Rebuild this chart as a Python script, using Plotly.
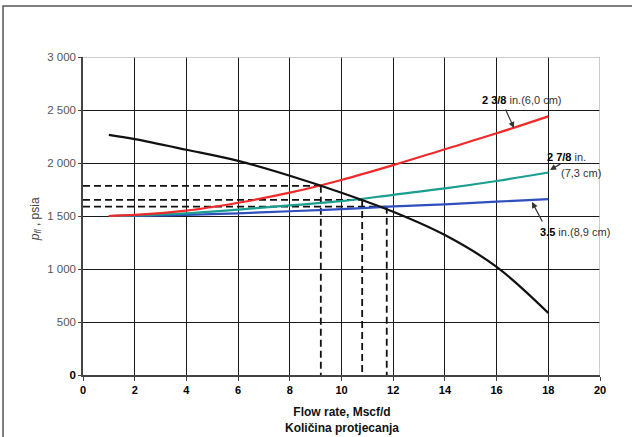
import plotly.graph_objects as go

# ---- data ----
ipr_x = [1, 2, 4, 6, 8, 10, 12, 14, 16, 18]
ipr_y = [2265, 2225, 2125, 2020, 1880, 1720, 1540, 1320, 1020, 585]

red_x = [1, 2, 4, 6, 8, 10, 12, 14, 16, 18]
red_y = [1500, 1510, 1550, 1625, 1720, 1840, 1980, 2130, 2280, 2440]

teal_x = [1, 2, 4, 6, 8, 10, 12, 14, 16, 18]
teal_y = [1500, 1505, 1525, 1560, 1600, 1640, 1700, 1760, 1830, 1910]

blue_x = [1, 2, 4, 6, 8, 10, 12, 14, 16, 18]
blue_y = [1500, 1502, 1510, 1525, 1545, 1565, 1590, 1610, 1635, 1660]

cross_x = [9.2, 10.8, 11.75]
cross_y = [1785, 1652, 1588]

x_ticks = [0, 2, 4, 6, 8, 10, 12, 14, 16, 18, 20]
y_ticks = [0, 500, 1000, 1500, 2000, 2500, 3000]
y_tick_text = ["<b style='color:#000'>0</b>", "500", "1 000", "1 500", "2 000", "2 500", "3 000"]

fig = go.Figure()

# dashed construction lines
for xi, yi in zip(cross_x, cross_y):
    fig.add_trace(go.Scatter(x=[0, xi], y=[yi, yi], mode="lines",
                             line=dict(color="#111111", width=1.8, dash="7px,4px"),
                             showlegend=False, hoverinfo="skip"))
    fig.add_trace(go.Scatter(x=[xi, xi], y=[yi, 0], mode="lines",
                             line=dict(color="#111111", width=1.8, dash="7px,4px"),
                             showlegend=False, hoverinfo="skip"))

fig.add_trace(go.Scatter(x=blue_x, y=blue_y, mode="lines", line=dict(color="#2f4fbf", width=2.2, shape="spline"), showlegend=False))
fig.add_trace(go.Scatter(x=teal_x, y=teal_y, mode="lines", line=dict(color="#1a9e90", width=2.2, shape="spline"), showlegend=False))
fig.add_trace(go.Scatter(x=red_x, y=red_y, mode="lines", line=dict(color="#f02a2a", width=2.2, shape="spline"), showlegend=False))
fig.add_trace(go.Scatter(x=ipr_x, y=ipr_y, mode="lines", line=dict(color="#111111", width=2.2, shape="spline"), showlegend=False))

ann_font = dict(family="Arial, Liberation Sans, sans-serif", size=11, color="#333333")
annotations = [
    dict(x=16.98, y=2594, xref="x", yref="y", text="<b style='color:#000'>2 3/8</b> in.(6,0 cm)", showarrow=False, font=ann_font),
    dict(x=18.72, y=2057, xref="x", yref="y", text="<b style='color:#000'>2 7/8</b> in.", showarrow=False, font=ann_font),
    dict(x=19.27, y=1906, xref="x", yref="y", text="(7,3 cm)", showarrow=False, font=ann_font),
    dict(x=19.03, y=1349, xref="x", yref="y", text="<b style='color:#000'>3.5</b> in.(8,9 cm)", showarrow=False, font=ann_font),
    # arrows
    dict(x=16.67, y=2330, xref="x", yref="y", ax=16.32, ay=2519, axref="x", ayref="y", text="",
         showarrow=True, arrowhead=2, arrowsize=1, arrowwidth=1.2, arrowcolor="#333333"),
    dict(x=18.07, y=1934, xref="x", yref="y", ax=18.53, ay=2000, axref="x", ayref="y", text="",
         showarrow=True, arrowhead=2, arrowsize=1, arrowwidth=1.2, arrowcolor="#333333"),
    dict(x=17.37, y=1632, xref="x", yref="y", ax=17.8, ay=1434, axref="x", ayref="y", text="",
         showarrow=True, arrowhead=2, arrowsize=1, arrowwidth=1.2, arrowcolor="#333333"),
    # axis titles
    dict(x=0.5, y=-0.088, xref="paper", yref="paper", xanchor="center", yanchor="top",
         text="<b>Flow rate, Mscf/d<br>Količina protjecanja</b>", showarrow=False,
         font=dict(family="Arial, Liberation Sans, sans-serif", size=12, color="#111111")),
    dict(x=-0.11, y=0.49, xref="paper", yref="paper", textangle=-90,
         text="<i>p</i><sub><i>fl</i></sub> , psia", showarrow=False,
         font=dict(family="Arial, Liberation Sans, sans-serif", size=12, color="#444444")),
]

shapes = [
    dict(type="rect", xref="paper", yref="paper", x0=-0.1547, x1=1.2, y0=-0.4, y1=1.1604,
         line=dict(color="#555555", width=1.5), layer="below"),
    dict(type="line", xref="x", yref="y", x0=0, x1=20, y0=3000, y1=3000,
         line=dict(color="#bbbbbb", width=1.5), layer="above"),
    dict(type="line", xref="x", yref="y", x0=20, x1=20, y0=0, y1=3000,
         line=dict(color="#bbbbbb", width=1.5), layer="above"),
]

fig.update_layout(
    width=632, height=437,
    margin=dict(l=83, r=32, t=57, b=62),
    paper_bgcolor="white", plot_bgcolor="white",
    annotations=annotations, shapes=shapes,
    xaxis=dict(range=[0, 20], tickvals=x_ticks, ticktext=[f"<b>{v}</b>" for v in x_ticks],
               showgrid=True, gridcolor="#1a1a1a", gridwidth=1.4,
               showline=True, linecolor="#444444", linewidth=1.5,
               ticks="outside", ticklen=4, tickcolor="#444444",
               zeroline=False,
               tickfont=dict(family="Arial, Liberation Sans, sans-serif", size=11, color="#000000")),
    yaxis=dict(range=[0, 3000], tickvals=y_ticks, ticktext=y_tick_text,
               showgrid=True, gridcolor="#1a1a1a", gridwidth=1.4,
               showline=True, linecolor="#444444", linewidth=1.5,
               ticks="outside", ticklen=3, tickcolor="#444444",
               zeroline=False,
               tickfont=dict(family="Arial, Liberation Sans, sans-serif", size=11.5, color="#555555")),
)

fig.write_html("out.html")
